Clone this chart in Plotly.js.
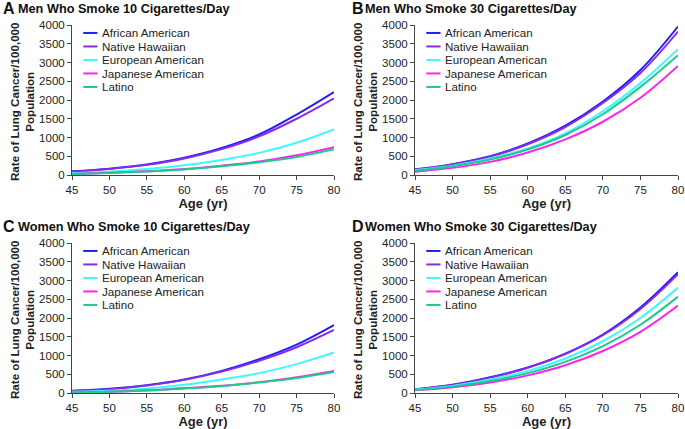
<!DOCTYPE html>
<html>
<head>
<meta charset="utf-8">
<script src="https://cdn.plot.ly/plotly-3.0.1.min.js"></script>
<style>
html,body{margin:0;padding:0;background:#fff;}
#chart{width:685px;height:429px;}
</style>
</head>
<body>
<div id="chart"></div>
<script>
// ---- Data ----
const ages = [45, 50, 55, 60, 65, 70, 75, 80];
const seriesNames = ["African American", "Native Hawaiian", "European American", "Japanese American", "Latino"];
const seriesColors = ["#1f1ff5", "#8a2be8", "#3ff8ff", "#ff22f0", "#1fc88f"];
const xTickVals = [45, 50, 55, 60, 65, 70, 75, 80];
const yTickVals = [0, 500, 1000, 1500, 2000, 2500, 3000, 3500, 4000];
const panelLetters = ["A", "B", "C", "D"];
const panelTitles = ["Men Who Smoke 10 Cigarettes/Day", "Men Who Smoke 30 Cigarettes/Day",
                     "Women Who Smoke 10 Cigarettes/Day", "Women Who Smoke 30 Cigarettes/Day"];
const xTitle = "Age (yr)";
const yTitle = "Rate of Lung Cancer/100,000<br>Population";

// Panel A: men, 10 cigarettes/day
const men10_african   = [100, 170, 280, 460, 720, 1080, 1610, 2210];
const men10_hawaiian  = [90, 160, 270, 440, 690, 1030, 1500, 2045];
const men10_european  = [50, 90, 160, 260, 400, 590, 860, 1215];
const men10_japanese  = [30, 60, 100, 160, 250, 360, 525, 740];
const men10_latino    = [30, 55, 95, 150, 235, 340, 480, 685];

// Panel B: men, 30 cigarettes/day
const men30_african   = [150, 290, 500, 840, 1315, 1960, 2800, 3960];
const men30_hawaiian  = [140, 280, 490, 820, 1280, 1920, 2720, 3825];
const men30_european  = [130, 250, 440, 710, 1110, 1700, 2450, 3355];
const men30_japanese  = [90, 190, 350, 600, 950, 1420, 2060, 2910];
const men30_latino    = [110, 235, 415, 680, 1067, 1620, 2350, 3195];

// Panel C: women, 10 cigarettes/day
const women10_african  = [60, 110, 210, 360, 590, 900, 1290, 1810];
const women10_hawaiian = [55, 100, 200, 350, 570, 860, 1220, 1680];
const women10_european = [30, 60, 120, 220, 360, 530, 770, 1080];
const women10_japanese = [15, 30, 70, 130, 190, 290, 420, 590];
const women10_latino   = [15, 30, 65, 120, 180, 280, 400, 560];

// Panel D: women, 30 cigarettes/day
const women30_african  = [100, 220, 420, 680, 1050, 1560, 2280, 3220];
const women30_hawaiian = [95, 215, 410, 670, 1040, 1540, 2240, 3170];
const women30_european = [90, 190, 360, 590, 920, 1380, 2000, 2810];
const women30_japanese = [70, 150, 280, 470, 740, 1120, 1630, 2330];
const women30_latino   = [80, 170, 320, 530, 830, 1250, 1820, 2570];

const panelSeries = [
  [men10_african, men10_hawaiian, men10_european, men10_japanese, men10_latino],
  [men30_african, men30_hawaiian, men30_european, men30_japanese, men30_latino],
  [women10_african, women10_hawaiian, women10_european, women10_japanese, women10_latino],
  [women30_african, women30_hawaiian, women30_european, women30_japanese, women30_latino]
];

// ---- Build ----
const FONT = "Arial, 'Liberation Sans', sans-serif";
const W = 685, H = 429;
// panel plot areas in pixels: [left, right, top, bottom]
const boxes = [
  [72, 334, 25, 175],
  [415, 678, 25, 175],
  [72, 334, 243, 393],
  [415, 678, 243, 393]
];

const traces = [];
const layout = {
  width: W, height: H,
  margin: {l: 0, r: 0, t: 0, b: 0},
  paper_bgcolor: "#fff", plot_bgcolor: "#fff",
  showlegend: false,
  font: {family: FONT, color: "#222"},
  annotations: [], shapes: []
};

const legendY = [0.947, 0.857, 0.767, 0.677, 0.587];

boxes.forEach((b, p) => {
  const n = p === 0 ? "" : String(p + 1);
  const xa = "x" + n, ya = "y" + n;
  panelSeries[p].forEach((vals, s) => {
    traces.push({
      x: ages, y: vals, xaxis: xa, yaxis: ya,
      type: "scatter", mode: "lines", name: seriesNames[s],
      line: {color: seriesColors[s], width: 2, shape: "spline", smoothing: 1},
      hoverinfo: "x+y+name"
    });
  });
  const axCommon = {
    showgrid: false, zeroline: false, showline: true, linecolor: "#444", linewidth: 1,
    ticks: "outside", ticklen: 4, tickcolor: "#444", tickwidth: 1,
    tickfont: {family: FONT, size: 11.5, color: "#222"}
  };
  layout["xaxis" + n] = Object.assign({}, axCommon, {
    domain: [b[0] / W, b[1] / W], anchor: ya, range: [45, 80],
    tickvals: xTickVals, ticktext: xTickVals.map(String),
    title: {text: "<b>" + xTitle + "</b>", font: {family: FONT, size: 13, color: "#222"}, standoff: 2}
  });
  layout["yaxis" + n] = Object.assign({}, axCommon, {
    domain: [1 - b[3] / H, 1 - b[2] / H], anchor: xa, range: [0, 4000],
    tickvals: yTickVals, ticktext: yTickVals.map(String)
  });
  // y-axis title
  layout.annotations.push({
    xref: "paper", yref: "paper", x: (b[0] - 50) / W, y: 1 - ((b[2] + b[3]) / 2 + 2) / H,
    xanchor: "center", yanchor: "middle", showarrow: false, textangle: -90,
    text: "<b>" + yTitle + "</b>", font: {family: FONT, size: 11.6, color: "#222"}
  });
  // panel titles
  layout.annotations.push({
    xref: "paper", yref: "paper", x: (b[0] === 72 ? 1 : 350) / W, y: 1 - (b[2] - 16.5) / H,
    xanchor: "left", yanchor: "middle", showarrow: false,
    text: "<b>" + panelLetters[p] + "</b>", font: {family: FONT, size: 16, color: "#111"}
  });
  layout.annotations.push({
    xref: "paper", yref: "paper", x: (b[0] === 72 ? 16 : 363) / W, y: 1 - (b[2] - 16.5) / H,
    xanchor: "left", yanchor: "middle", showarrow: false,
    text: "<b>" + panelTitles[p] + "</b>", font: {family: FONT, size: 12.7, color: "#111"}
  });
  // legend
  seriesNames.forEach((name, s) => {
    layout.shapes.push({
      type: "line", xref: xa + " domain", yref: ya + " domain",
      x0: 0.043, x1: 0.097, y0: legendY[s], y1: legendY[s],
      line: {color: seriesColors[s], width: 2}
    });
    layout.annotations.push({
      xref: xa + " domain", yref: ya + " domain", x: 0.108, y: legendY[s],
      xanchor: "left", yanchor: "middle", showarrow: false,
      text: name, font: {family: FONT, size: 11.6, color: "#222"}
    });
  });
});

Plotly.newPlot("chart", traces, layout, {displayModeBar: false, staticPlot: true});
</script>
</body>
</html>
